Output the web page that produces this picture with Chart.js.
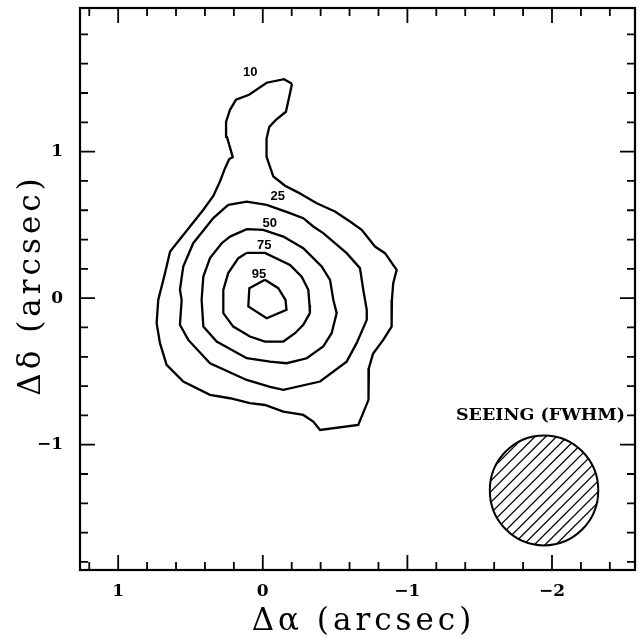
<!DOCTYPE html>
<html>
<head>
<meta charset="utf-8">
<script src="https://cdn.jsdelivr.net/npm/chart.js@4/dist/chart.umd.min.js"></script>
<style>
  html, body { margin: 0; padding: 0; background: #fff; }
  canvas { display: block; }
</style>
</head>
<body>
<canvas id="c" width="639" height="639"></canvas>
<script>
// Contour outlines, offsets in arcsec: RA (Δα) and Dec (Δδ)
const LEVELS = ['10', '25', '50', '75', '95'];

const C10_RA  = [-0.202, -0.183, -0.160, -0.091, -0.045, -0.026, -0.026, -0.073, -0.154, -0.243,
                 -0.373, -0.499, -0.603, -0.684, -0.776, -0.845, -0.926, -0.902, -0.893, -0.891,
                 -0.833, -0.762, -0.734, -0.731, -0.660, -0.396, -0.349, -0.280, -0.142, -0.015,
                  0.089,  0.227,  0.365,  0.550,  0.665,  0.711,  0.734,  0.723,  0.676,  0.641,
                  0.503,  0.411,  0.342,  0.296,  0.261,  0.232,  0.208,  0.222,  0.248,  0.254,
                  0.227,  0.185,  0.095, -0.027, -0.147];
const C10_DEC = [ 1.463,  1.374,  1.272,  1.217,  1.169,  1.087,  0.965,  0.830,  0.767,  0.722,
                  0.648,  0.591,  0.523,  0.466,  0.352,  0.307,  0.193,  0.102, -0.012, -0.194,
                 -0.285, -0.380, -0.476, -0.694, -0.865, -0.899, -0.842, -0.797, -0.774, -0.729,
                 -0.717, -0.683, -0.660, -0.569, -0.455, -0.307, -0.171, -0.012,  0.171,  0.318,
                  0.489,  0.603,  0.698,  0.796,  0.887,  0.949,  0.962,  1.012,  1.101,  1.203,
                  1.285,  1.354,  1.388,  1.470,  1.494];

const C25_RA  = [ 0.239,  0.111, -0.027, -0.188, -0.280, -0.349, -0.418, -0.580, -0.672, -0.695,
                 -0.719, -0.719, -0.649, -0.580, -0.396, -0.142, -0.050,  0.111,  0.365,  0.515,
                  0.573,  0.561,  0.573,  0.550,  0.481,  0.342];
const C25_DEC = [ 0.637,  0.659,  0.637,  0.580,  0.546,  0.489,  0.444,  0.307,  0.205,  0.057,
                 -0.080, -0.148, -0.307, -0.433, -0.569, -0.626, -0.606, -0.558, -0.444, -0.285,
                 -0.182, -0.012,  0.057,  0.216,  0.375,  0.546];

const C50_RA  = [ 0.227,  0.111, -0.003, -0.142, -0.280, -0.407, -0.465, -0.488, -0.511, -0.476,
                 -0.418, -0.304, -0.165, -0.050,  0.111,  0.319,  0.411,  0.423,  0.411,  0.365,
                  0.284];
const C50_DEC = [ 0.420,  0.471,  0.466,  0.420,  0.341,  0.216,  0.125, -0.012, -0.102, -0.239,
                 -0.330, -0.410, -0.444, -0.433, -0.410, -0.296, -0.194, -0.012,  0.147,  0.273,
                  0.375];

const C75_RA  = [ 0.111, -0.015, -0.188, -0.269, -0.315, -0.323, -0.326, -0.280, -0.223, -0.142,
                 -0.015,  0.089,  0.204,  0.273,  0.273,  0.239,  0.169];
const C75_DEC = [ 0.309,  0.309,  0.227,  0.147,  0.057, -0.046, -0.102, -0.182, -0.239, -0.296,
                 -0.296, -0.262, -0.194, -0.102,  0.057,  0.171,  0.273];

const C95_RA  = [-0.015, -0.107, -0.157, -0.164, -0.027,  0.100,  0.093];
const C95_DEC = [ 0.125,  0.068, -0.012, -0.080, -0.137, -0.057,  0.068];

// Where each level's label sits
const LABEL_RA  = [ 0.087, -0.103, -0.048, -0.010,  0.026];
const LABEL_DEC = [ 1.539,  0.696,  0.509,  0.358,  0.165];

// Axis ranges and labelled ticks
const X_RANGE = [-2.574, 1.264];
const Y_RANGE = [-1.855, 1.980];
const X_TICKS = [1, 0, -1, -2];
const Y_TICKS = [1, 0, -1];
const MINOR_STEP = 0.2;

// Seeing disk (FWHM) and its caption
const SEEING_RA = -1.945;
const SEEING_DEC = -1.312;
const SEEING_FWHM = 0.75;
const SEEING_TEXT = 'SEEING (FWHM)';
const SEEING_TEXT_RA = -2.505;
const SEEING_TEXT_DEC = -0.803;

const X_TITLE = 'Δα (arcsec)';
const Y_TITLE = 'Δδ (arcsec)';

function closedPoints(ra, dec) {
  const pts = ra.map((x, i) => ({ x, y: dec[i] }));
  pts.push({ x: ra[0], y: dec[0] });
  return pts;
}

const contours = [
  [C10_RA, C10_DEC], [C25_RA, C25_DEC], [C50_RA, C50_DEC], [C75_RA, C75_DEC], [C95_RA, C95_DEC]
];

const datasets = contours.map(([ra, dec], i) => ({
  label: LEVELS[i],
  data: closedPoints(ra, dec),
  showLine: true,
  borderColor: '#000',
  borderWidth: 2.3,
  pointRadius: 0,
  tension: 0,
  fill: false
}));

const minus = v => (v < 0 ? '\u2212' + Math.abs(v) : String(v));

const framePlugin = {
  id: 'frame',
  afterDatasetsDraw(chart) {
    const ctx = chart.ctx, a = chart.chartArea;
    const xs = chart.scales.x, ys = chart.scales.y;
    ctx.save();
    ctx.strokeStyle = '#000';
    ctx.fillStyle = '#000';

    // inward ticks on all four sides
    ctx.lineWidth = 1.8;
    const isMajor = v => Math.abs(v - Math.round(v)) < 1e-6;
    for (let i = -20; i <= 20; i++) {
      const v = i * MINOR_STEP;
      if (v > X_RANGE[0] && v < X_RANGE[1]) {
        const p = xs.getPixelForValue(v);
        const len = isMajor(v) ? 15 : 8;
        ctx.beginPath();
        ctx.moveTo(p, a.bottom); ctx.lineTo(p, a.bottom - len);
        ctx.moveTo(p, a.top); ctx.lineTo(p, a.top + len);
        ctx.stroke();
      }
      if (v > Y_RANGE[0] && v < Y_RANGE[1]) {
        const p = ys.getPixelForValue(v);
        const len = isMajor(v) ? 15 : 8;
        ctx.beginPath();
        ctx.moveTo(a.left, p); ctx.lineTo(a.left + len, p);
        ctx.moveTo(a.right, p); ctx.lineTo(a.right - len, p);
        ctx.stroke();
      }
    }

    // frame
    ctx.lineWidth = 2.2;
    ctx.strokeRect(a.left, a.top, a.right - a.left, a.bottom - a.top);

    // contour level labels
    ctx.font = 'bold 13px "Liberation Sans"';
    ctx.textAlign = 'center';
    ctx.textBaseline = 'middle';
    LEVELS.forEach((t, i) => {
      ctx.fillText(t, xs.getPixelForValue(LABEL_RA[i]), ys.getPixelForValue(LABEL_DEC[i]));
    });

    // seeing disk with hatching
    const cx = xs.getPixelForValue(SEEING_RA), cy = ys.getPixelForValue(SEEING_DEC);
    const rx = Math.abs(xs.getPixelForValue(SEEING_RA + SEEING_FWHM / 2) - cx);
    const ry = Math.abs(ys.getPixelForValue(SEEING_DEC + SEEING_FWHM / 2) - cy);
    ctx.save();
    ctx.beginPath();
    ctx.ellipse(cx, cy, rx, ry, 0, 0, Math.PI * 2);
    ctx.clip();
    ctx.lineWidth = 1.3;
    const R = Math.max(rx, ry) * 1.5, s = Math.SQRT1_2, gap = 7.6;
    for (let d = -R; d <= R; d += gap) {
      ctx.beginPath();
      ctx.moveTo(cx + (d - R) * s, cy + (d + R) * s);
      ctx.lineTo(cx + (d + R) * s, cy + (d - R) * s);
      ctx.stroke();
    }
    ctx.restore();
    ctx.lineWidth = 2;
    ctx.beginPath();
    ctx.ellipse(cx, cy, rx, ry, 0, 0, Math.PI * 2);
    ctx.stroke();

    ctx.font = 'bold 17.5px "DejaVu Serif"';
    ctx.textAlign = 'right';
    ctx.textBaseline = 'middle';
    ctx.fillText(SEEING_TEXT, xs.getPixelForValue(SEEING_TEXT_RA), ys.getPixelForValue(SEEING_TEXT_DEC));

    // axis titles
    ctx.font = '31px "DejaVu Serif"';
    ctx.letterSpacing = '4px';
    ctx.textAlign = 'center';
    ctx.textBaseline = 'alphabetic';
    ctx.fillText(X_TITLE, (a.left + a.right) / 2 + 6, 630);
    ctx.translate(40, (a.top + a.bottom) / 2 - 4);
    ctx.rotate(-Math.PI / 2);
    ctx.fillText(Y_TITLE, 0, 0);
    ctx.restore();
  }
};

new Chart(document.getElementById('c'), {
  type: 'scatter',
  data: { datasets },
  options: {
    responsive: false,
    animation: false,
    devicePixelRatio: 1,
    layout: { padding: { left: 0, top: 8, right: 4, bottom: 0 } },
    plugins: { legend: { display: false }, tooltip: { enabled: false } },
    scales: {
      x: {
        type: 'linear',
        reverse: true,
        min: X_RANGE[0],
        max: X_RANGE[1],
        grid: { display: false, drawTicks: false },
        border: { display: false },
        afterBuildTicks: s => { s.ticks = X_TICKS.map(v => ({ value: v })); },
        afterFit: s => { s.height = 69; s.paddingLeft = 0; s.paddingRight = 0; },
        ticks: {
          padding: 11,
          color: '#000',
          font: { family: 'DejaVu Serif', size: 17, weight: 'bold' },
          callback: v => minus(v)
        }
      },
      y: {
        type: 'linear',
        min: Y_RANGE[0],
        max: Y_RANGE[1],
        grid: { display: false, drawTicks: false },
        border: { display: false },
        afterBuildTicks: s => { s.ticks = Y_TICKS.map(v => ({ value: v })); },
        afterFit: s => { s.width = 80; s.paddingTop = 0; s.paddingBottom = 0; },
        ticks: {
          padding: 17,
          color: '#000',
          font: { family: 'DejaVu Serif', size: 17, weight: 'bold' },
          callback: v => minus(v)
        }
      }
    }
  },
  plugins: [framePlugin]
});
</script>
</body>
</html>
